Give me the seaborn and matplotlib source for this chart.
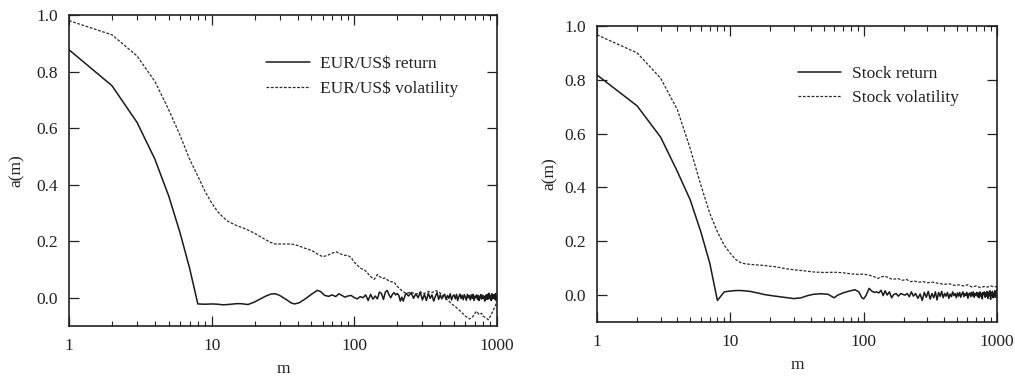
import numpy as np
import pandas as pd
import matplotlib
matplotlib.use("Agg")
import matplotlib.pyplot as plt
import seaborn as sns
from matplotlib.ticker import FixedLocator, FixedFormatter, NullFormatter

# ---------------- data ----------------
eur_ret_m = [1, 2, 3, 4, 5, 6, 7, 8, 9, 10, 11, 12, 13, 15, 16, 18, 20, 22, 24, 26, 28, 30, 33, 36, 38,
             41, 45, 50, 55, 58, 62, 66, 70, 74, 78, 82, 86, 90, 95, 100, 105, 110, 115, 120, 125, 130,
             135, 140, 145, 150, 155, 160, 165, 170, 175, 180, 185, 190, 195, 200, 205, 210, 215, 220,
             225, 230, 240, 250, 260, 270, 280, 290, 300, 310, 320, 330, 340, 350, 360, 370, 380, 390,
             400, 410, 420, 430, 440, 450, 460, 470, 480, 490, 500, 510, 520, 530, 540, 550, 560, 570,
             580, 590, 600, 610, 620, 630, 640, 650, 660, 670, 680, 690, 700, 710, 720, 730, 740, 750,
             760, 770, 780, 790, 800, 810, 820, 830, 840, 850, 860, 870, 880, 890, 900, 910, 920, 930,
             940, 950, 960, 970, 980, 990, 1000]
eur_ret_v = [0.877, 0.75, 0.62, 0.49, 0.36, 0.23, 0.105, -0.022, -0.023, -0.022, -0.023, -0.025, -0.024,
             -0.021, -0.021, -0.024, -0.015, -0.004, 0.006, 0.013, 0.014, 0.008, -0.005, -0.018, -0.022,
             -0.018, -0.005, 0.012, 0.026, 0.022, 0.008, 0.005, 0.010, 0.004, 0.014, 0.008, 0.002, 0.006,
             0.008, 0.000, -0.004, 0.004, 0.000, 0.010, -0.010, 0.012, -0.005, 0.006, -0.004, 0.020, 0.015,
             -0.006, 0.020, 0.026, 0.010, 0.000, 0.012, 0.018, 0.010, 0.015, 0.008, -0.012, 0.002, -0.012,
             0.003, 0.016, 0.006, 0.018, -0.002, 0.014, 0.000, 0.020, -0.008, 0.012, -0.010, 0.016, -0.002,
             0.010, -0.012, 0.005, 0.018, -0.006, 0.010, -0.004, 0.008, 0.012, -0.006, 0.008, -0.002, 0.014,
             -0.008, 0.006, 0.010, -0.004, 0.012, -0.010, 0.004, 0.013, -0.003, 0.009, -0.007, 0.011, 0.002,
             -0.009, 0.012, 0.000, 0.008, -0.008, 0.010, -0.002, 0.012, -0.010, 0.006, 0.000, 0.010, -0.006,
             0.008, -0.010, 0.004, 0.011, -0.005, 0.009, -0.002, 0.006, -0.012, 0.004, 0.010, -0.006, 0.012,
             -0.004, 0.016, -0.002, 0.008, -0.010, 0.014, -0.004, 0.010, 0.000, 0.012, -0.006, 0.015, -0.012,
             -0.005]

eur_vol_m = [1, 2, 3, 4, 5, 6, 7, 8, 9, 10, 11, 12, 13, 15, 17, 20, 23, 26, 28, 32, 36, 40, 45, 50, 55,
             60, 65, 70, 75, 80, 85, 90, 95, 100, 110, 120, 130, 138, 145, 150, 158, 165, 175, 190, 200,
             215, 230, 250, 270, 290, 310, 330, 350, 370, 390, 410, 430, 460, 490, 520, 560, 600, 640, 670,
             700, 720, 750, 780, 800, 840, 870, 900, 930, 960, 1000]
eur_vol_v = [0.98, 0.93, 0.855, 0.765, 0.665, 0.575, 0.49, 0.43, 0.375, 0.335, 0.305, 0.285, 0.27, 0.255,
             0.245, 0.228, 0.21, 0.195, 0.19, 0.19, 0.19, 0.185, 0.175, 0.168, 0.155, 0.145, 0.15, 0.158,
             0.162, 0.155, 0.15, 0.15, 0.142, 0.125, 0.105, 0.095, 0.075, 0.065, 0.082, 0.075, 0.068, 0.07,
             0.058, 0.055, 0.04, 0.025, 0.015, 0.02, 0.012, 0.02, 0.015, 0.022, 0.018, 0.025, 0.022, 0.01,
             0.0, -0.012, -0.025, -0.035, -0.05, -0.065, -0.075, -0.07, -0.055, -0.048, -0.06, -0.055,
             -0.065, -0.072, -0.078, -0.065, -0.05, -0.035, -0.015]

stk_ret_m = [1, 2, 3, 4, 5, 6, 7, 8, 9, 10, 11, 12, 14, 16, 18, 21, 25, 30, 34, 38, 42, 48, 54, 60, 64,
             70, 78, 86, 92, 97, 100, 104, 110, 115, 120, 125, 130, 135, 140, 145, 150, 156, 162, 168, 175,
             182, 190, 198, 205, 212, 220, 228, 236, 245, 255, 265, 275, 285, 295, 305, 315, 325, 335, 345,
             355, 365, 375, 385, 395, 405, 415, 425, 435, 445, 455, 465, 475, 485, 495, 505, 515, 525, 535,
             545, 555, 565, 575, 585, 595, 605, 615, 625, 635, 645, 655, 665, 675, 685, 695, 705, 715, 725,
             735, 745, 755, 765, 775, 785, 795, 805, 815, 825, 835, 845, 855, 865, 875, 885, 895, 905, 915,
             925, 935, 945, 955, 965, 975, 985, 1000]
stk_ret_v = [0.818, 0.703, 0.587, 0.46, 0.354, 0.236, 0.12, -0.02, 0.012, 0.015, 0.017, 0.017, 0.014,
             0.008, 0.002, -0.003, -0.008, -0.013, -0.01, -0.002, 0.003, 0.005, 0.003, -0.01, 0.0, 0.008,
             0.015, 0.02, 0.012, -0.01, -0.014, -0.002, 0.025, 0.015, 0.01, 0.012, 0.008, 0.018, -0.002,
             0.016, 0.0, 0.012, -0.01, 0.002, 0.006, -0.004, 0.006, 0.002, 0.0, 0.006, -0.006, 0.012, -0.004,
             0.006, -0.012, 0.004, -0.02, 0.01, -0.008, 0.014, -0.015, 0.006, -0.01, 0.012, -0.018, 0.01,
             -0.005, 0.014, -0.01, 0.006, -0.004, 0.01, -0.012, 0.004, -0.006, 0.012, -0.002, 0.006, -0.01,
             0.008, -0.004, 0.01, -0.008, 0.004, 0.012, -0.006, 0.006, -0.002, 0.01, -0.012, 0.004, 0.008,
             -0.006, 0.01, -0.003, 0.012, -0.008, 0.006, 0.0, 0.01, -0.006, 0.008, -0.01, 0.012, -0.004,
             0.006, -0.014, 0.01, 0.002, 0.012, -0.008, 0.008, -0.004, 0.014, -0.012, 0.01, -0.002, 0.016,
             -0.016, 0.008, 0.0, 0.014, -0.01, 0.006, -0.006, 0.016, -0.008, 0.012, 0.02]

stk_vol_m = [1, 2, 3, 4, 5, 6, 7, 8, 9, 10, 11, 12, 13, 15, 18, 22, 26, 30, 36, 42, 50, 60, 70, 80, 90,
             100, 110, 120, 128, 135, 145, 155, 165, 180, 195, 210, 225, 240, 260, 280, 300, 330, 360, 400,
             440, 480, 520, 560, 600, 650, 700, 750, 800, 850, 900, 950, 1000]
stk_vol_v = [0.967, 0.90, 0.806, 0.69, 0.545, 0.41, 0.305, 0.235, 0.185, 0.155, 0.132, 0.12, 0.116,
             0.113, 0.11, 0.105, 0.098, 0.094, 0.09, 0.086, 0.084, 0.085, 0.083, 0.079, 0.077, 0.078, 0.074,
             0.068, 0.062, 0.068, 0.07, 0.064, 0.058, 0.062, 0.055, 0.058, 0.05, 0.052, 0.048, 0.05, 0.046,
             0.048, 0.044, 0.04, 0.042, 0.036, 0.038, 0.034, 0.038, 0.03, 0.034, 0.028, 0.032, 0.03, 0.034,
             0.03, 0.032]

x_ticks = [1, 10, 100, 1000]
x_tick_labels = ["1", "10", "100", "1000"]
y_ticks = [0.0, 0.2, 0.4, 0.6, 0.8, 1.0]
y_tick_labels = ["0.0", "0.2", "0.4", "0.6", "0.8", "1.0"]

panels = [
    dict(ret=(eur_ret_m, eur_ret_v), vol=(eur_vol_m, eur_vol_v),
         labels=("EUR/US$ return", "EUR/US$ volatility"),
         rect=[69 / 1015, 1 - 326 / 378, 428 / 1015, 311 / 378],
         leg=(0.445, 0.89), ylpad=8),
    dict(ret=(stk_ret_m, stk_ret_v), vol=(stk_vol_m, stk_vol_v),
         labels=("Stock return", "Stock volatility"),
         rect=[597 / 1015, 1 - 322 / 378, 400 / 1015, 296 / 378],
         leg=(0.485, 0.89), ylpad=5),
]

# ---------------- styling ----------------
sns.set_theme(style="ticks")
plt.rcParams["font.family"] = ["Liberation Serif", "DejaVu Serif"]
FS = 12.5

fig = plt.figure(figsize=(10.15, 3.78), dpi=100)
fig.patch.set_facecolor("white")

minor = [k * 10 ** d for d in range(3) for k in range(2, 10)]

for p in panels:
    ax = fig.add_axes(p["rect"])
    df_r = pd.DataFrame({"m": p["ret"][0], "a": p["ret"][1]})
    df_v = pd.DataFrame({"m": p["vol"][0], "a": p["vol"][1]})
    sns.lineplot(data=df_r, x="m", y="a", ax=ax, color="#1a1a1a", lw=1.1,
                 estimator=None, label=p["labels"][0])
    sns.lineplot(data=df_v, x="m", y="a", ax=ax, color="#2a2a2a", lw=0.9,
                 linestyle=(0, (2.2, 1.3)), estimator=None, label=p["labels"][1])
    ax.set_xscale("log")
    ax.set_xlim(1, 1000)
    ax.set_ylim(-0.1, 1.0)
    ax.xaxis.set_major_locator(FixedLocator(x_ticks))
    ax.xaxis.set_major_formatter(FixedFormatter(x_tick_labels))
    ax.xaxis.set_minor_locator(FixedLocator(minor))
    ax.xaxis.set_minor_formatter(NullFormatter())
    ax.yaxis.set_major_locator(FixedLocator(y_ticks))
    ax.yaxis.set_major_formatter(FixedFormatter(y_tick_labels))
    ax.tick_params(axis="x", which="major", direction="in", length=7, width=0.9,
                   top=True, bottom=True, pad=9, labelsize=FS, colors="#222222")
    ax.tick_params(axis="x", which="minor", direction="in", length=3.8, width=0.8,
                   top=True, bottom=True, colors="#222222")
    ax.tick_params(axis="y", which="major", direction="in", length=7.5, width=0.9,
                   left=True, right=True, pad=8, labelsize=FS, colors="#222222")
    for s in ax.spines.values():
        s.set_visible(True)
        s.set_linewidth(1.2)
        s.set_color("#222222")
    ax.set_xlabel("m", fontsize=FS, color="#222222", labelpad=5)
    ax.set_ylabel("a(m)", fontsize=FS, color="#222222", labelpad=p["ylpad"])
    ax.set_facecolor("white")
    leg = ax.legend(loc="upper left", bbox_to_anchor=p["leg"], frameon=False,
                    fontsize=FS, handlelength=2.5, handletextpad=0.6,
                    labelspacing=0.5, borderaxespad=0)
    for t in leg.get_texts():
        t.set_color("#222222")

fig.savefig("out.png", dpi=100, facecolor="white")
